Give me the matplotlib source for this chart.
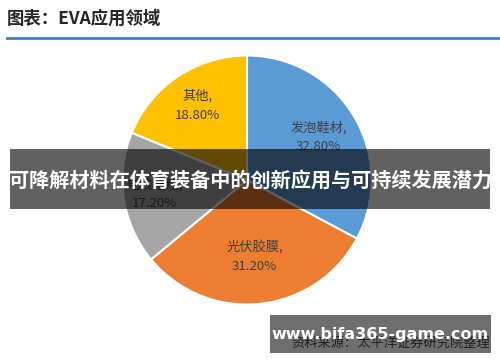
import matplotlib.pyplot as plt
import numpy as np
from matplotlib.patches import Rectangle

plt.rcParams['font.family'] = ['Noto Sans CJK SC', 'DejaVu Sans']

# chart data
categories = ['发泡鞋材', '光伏胶膜', '电线电缆', '其他']
shares = [32.8, 31.2, 17.2, 18.8]
colors = ['#5B9BD5', '#ED7D31', '#A5A5A5', '#FFC000']

title = '图表：EVA应用领域'
banner = '可降解材料在体育装备中的创新应用与可持续发展潜力'
source = '资料来源：太平洋证券研究院整理'
site = 'www.bifa365-game.com'

W, H = 500, 362
fig = plt.figure(figsize=(W / 100, H / 100), dpi=100)

# pie axes, centre about (247,180) px, radius 127 px
ax = fig.add_axes([120 / W, (H - 307) / H, 254 / W, 254 / H])
wedges, _ = ax.pie(shares, colors=colors, startangle=90, counterclock=False,
                   wedgeprops=dict(edgecolor='white', linewidth=1.5))
ax.set_xlim(-1.02, 1.02)
ax.set_ylim(-1.02, 1.02)
ax.set_aspect('equal')
ax.axis('off')

# labels inside the slices
dists = [0.67, 0.62, 0.75, 0.72]
for w, name, val, d in zip(wedges, categories, shares, dists):
    mid = np.deg2rad((w.theta1 + w.theta2) / 2)
    ax.text(d * np.cos(mid), d * np.sin(mid), f'{name},\n{val:.2f}%',
            ha='center', va='center', fontsize=9.5, color='#404040', linespacing=1.6)

# overlay in pixel coordinates
ov = fig.add_axes([0, 0, 1, 1])
ov.set_xlim(0, W)
ov.set_ylim(H, 0)
ov.axis('off')

ov.text(7, 19, title, fontsize=12.5, fontweight='bold', color='#262626', va='center')
ov.plot([7, W], [38, 38], color='#3B82C4', linewidth=2)

ov.add_patch(Rectangle((10, 149), 480, 60, color='black', alpha=0.62, linewidth=0))
ov.text(250, 180, banner, fontsize=14.5, fontweight='bold', color='white',
        ha='center', va='center')

ov.text(490, 343, source, fontsize=9.5, style='italic', color='#202020',
        ha='right', va='center')
ov.add_patch(Rectangle((270, 315), 221, 38, color='#4a4a4a', alpha=0.8, linewidth=0))
ov.text(380, 334, site, fontsize=11.5, fontweight='bold', color='white',
        ha='center', va='center', family='DejaVu Sans')

fig.savefig('out.png', dpi=100)
